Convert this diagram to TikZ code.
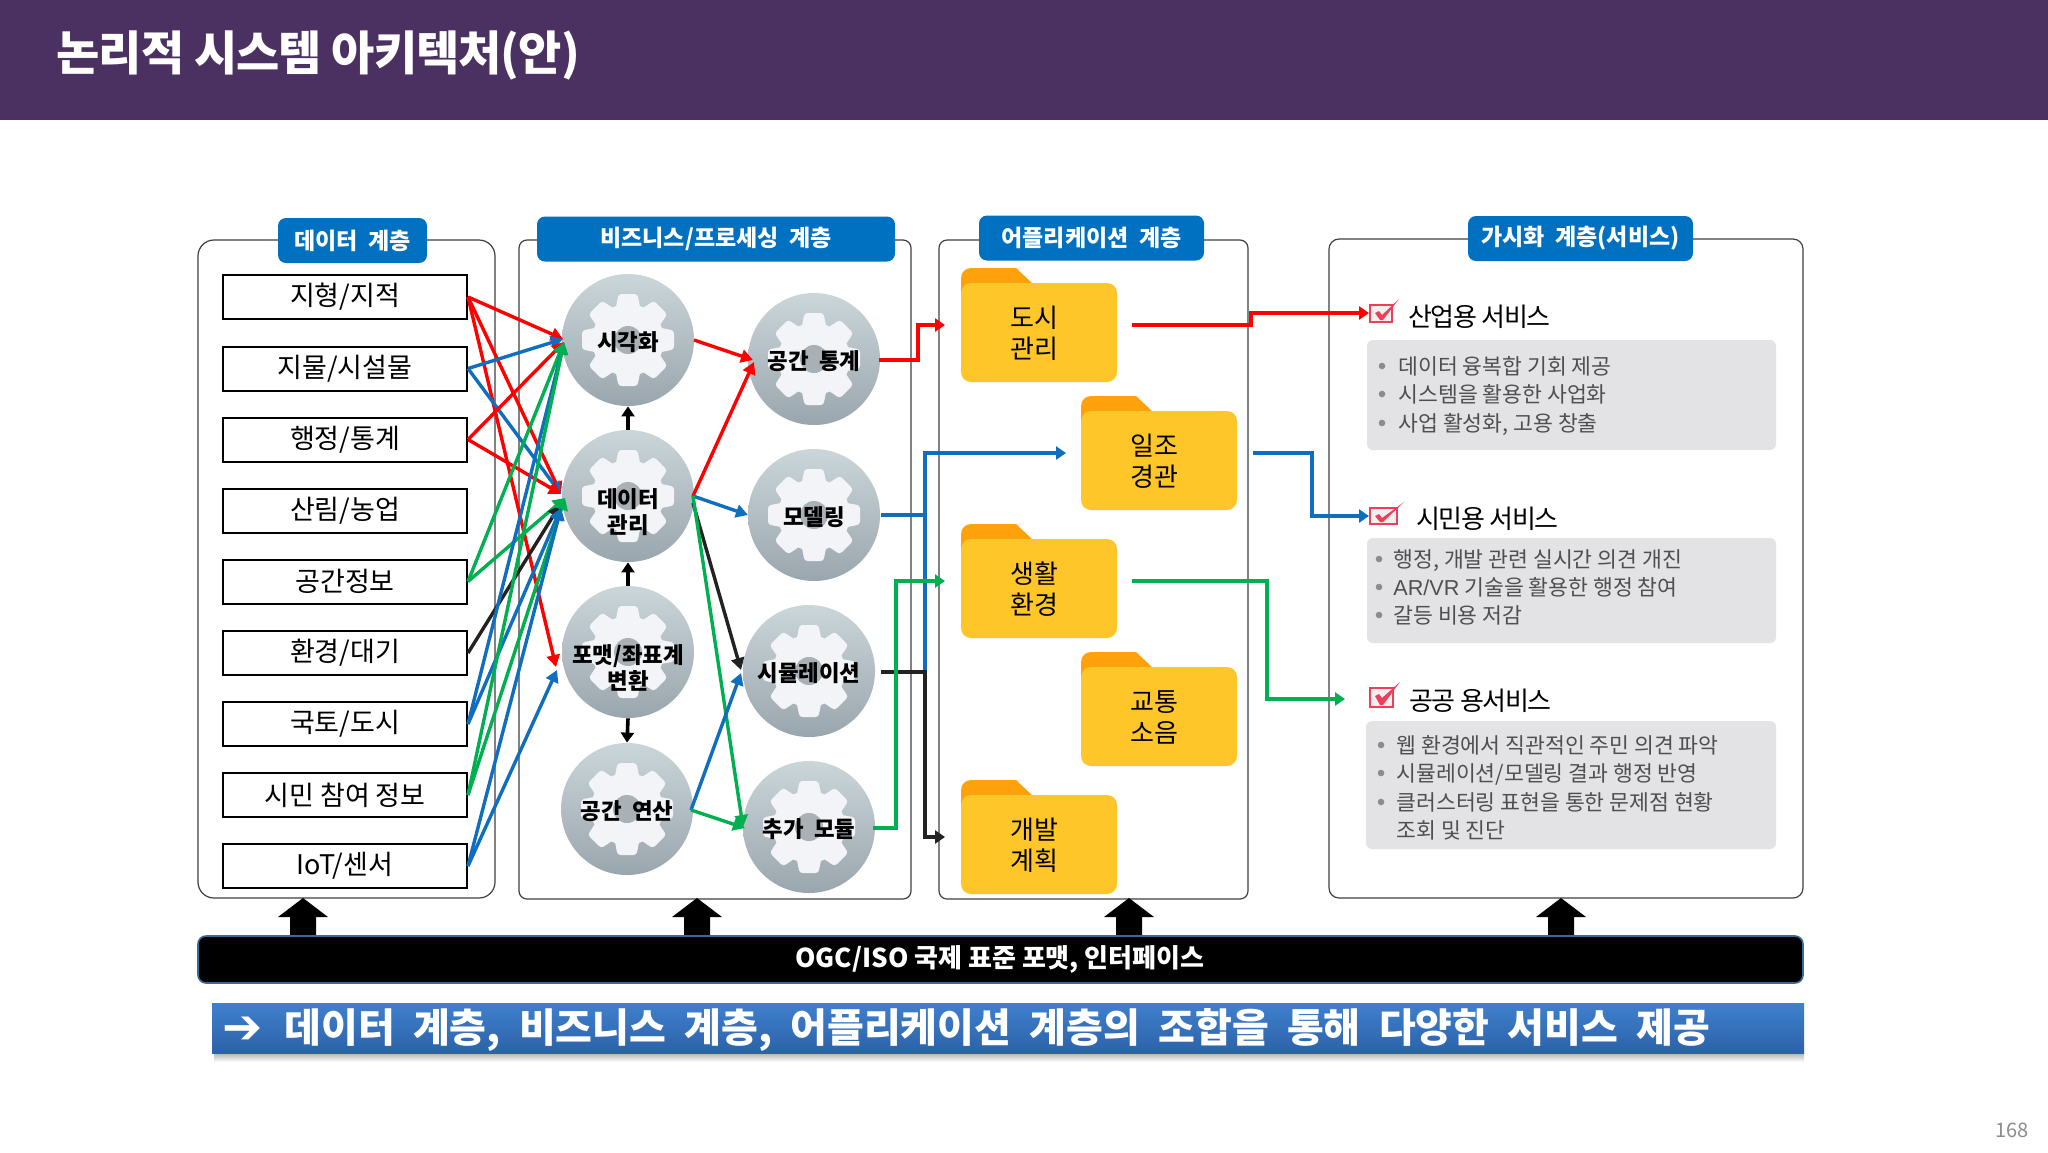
\documentclass[tikz,border=0pt]{standalone}
\usepackage{fontspec}
\usetikzlibrary{arrows.meta}
\setmainfont{Noto Sans CJK KR}
\newfontfamily\libsans{Liberation Sans}
\newfontfamily\djv{DejaVu Sans}
\newfontfamily\widefont[WordSpace=1.8]{Noto Sans CJK KR}
\newfontfamily\banfont[WordSpace=2]{Noto Sans CJK KR}
\newfontfamily\tightfont[LetterSpace=-5.7]{Noto Sans CJK KR}
\newfontfamily\titlefont[LetterSpace=-2]{Noto Sans CJK KR}
\definecolor{titlebg}{HTML}{4B3162}
\definecolor{headblue}{HTML}{0070C0}
\definecolor{lred}{HTML}{FF0000}
\definecolor{lblue}{HTML}{0F6FBE}
\definecolor{lgreen}{HTML}{00B050}
\definecolor{lblack}{HTML}{222222}
\definecolor{foldbody}{HTML}{FFC629}
\definecolor{foldtab}{HTML}{FFA10A}
\definecolor{greybox}{HTML}{E3E2E5}
\definecolor{greytext}{HTML}{4F4F4F}
\definecolor{chkred}{HTML}{EE3F5A}
\definecolor{gtop}{HTML}{CBD6DA}
\definecolor{gbot}{HTML}{9AA6AD}
\definecolor{gearwhite}{HTML}{F2F4F7}
\definecolor{hubgrey}{HTML}{AAB1B6}
\definecolor{bannertop}{HTML}{3F80CE}
\definecolor{bannerbot}{HTML}{2C62A8}
\definecolor{barline}{HTML}{3B6A96}
\tikzset{
  panel/.style={draw=black!75,line width=0.6pt,fill=white},
  headbox/.style={fill=headblue,rounded corners=4pt,text=white,font=\fontsize{11.5}{13}\selectfont\widefont\bfseries,inner sep=0pt,minimum height=22.5pt},
  databox/.style={draw=black,line width=1pt,fill=white,minimum width=122pt,minimum height=22pt,inner sep=0pt,font=\fontsize{13.5}{16}\selectfont},
  gdisk/.style={circle,minimum size=66pt,inner sep=0pt,top color=gtop,bottom color=gbot},
  glabel/.style={font=\fontsize{11.2}{13}\selectfont\widefont\bfseries,align=center,text=black,inner sep=0pt},
  foldnode/.style={fill=foldbody,rounded corners=5pt,minimum width=78pt,minimum height=49.5pt,inner sep=0pt},
  foldtext/.style={font=\fontsize{13}{15.5}\selectfont,align=center,inner sep=0pt},
  arr/.style={-{Triangle[length=6pt,width=6.5pt]},line width=1.7pt,miter limit=10},
  arrb/.style={-{Triangle[length=5pt,width=6.5pt]},line width=1.8pt,miter limit=10},
  plain/.style={line width=1.8pt,miter limit=10},
  greyrect/.style={fill=greybox,rounded corners=3pt},
  svc/.style={font=\fontsize{13}{15}\selectfont\tightfont,anchor=west,inner sep=0pt},
  itm/.style={font=\fontsize{10.8}{13}\selectfont,anchor=base west,inner sep=0pt,text=greytext},
}
% name, x, y, label y offset (px), label
\newcommand{\gearnode}[5]{%
  \node[gdisk] (#1) at (#2,#3) {};
  \begin{scope}[shift={(#1.center)}]
    \foreach \a in {0,45,...,315}
      \fill[rotate=\a,fill=gearwhite,rounded corners=1.5pt] (-13,-28) -- (-9.5,-46) -- (9.5,-46) -- (13,-28) -- cycle;
    \fill[gearwhite] (0,0) circle[radius=36];
    \fill[hubgrey] (0,0) circle[radius=14];
  \end{scope}
  \node[glabel] (#1t) at (#2,#3+#4) {#5};
}
\newcommand{\folder}[4]{%
  \fill[foldtab] (#2,#3+30) [rounded corners=5pt] -- (#2,#3) [sharp corners] -- (#2+55,#3) -- (#2+71,#3+15) -- (#2+30,#3+30) -- cycle;
  \node[foldnode] (#1) at (#2+78,#3+64.5) {};
  \node[foldtext] (#1t) at ([xshift=-2.5pt,yshift=-0.5pt]#1.center) {#4};
}
\newcommand{\checkbox}[4]{%
  \draw[chkred,line width=1pt,fill=black!6] (#1,#2) rectangle (#3,#4);
  \fill[chkred] (#1+5,#2+8) -- (#1+9,#2+6) -- (#1+12,#2+10) -- (#3+7,#2-6) -- (#1+13,#4-2) -- (#1+10,#4-2) -- cycle;
}
\newcommand{\uparr}[1]{%
  \fill[black] (#1-13,936) -- (#1-13,917) -- (#1-25,917) -- (#1,898) -- (#1+25,917) -- (#1+13,917) -- (#1+13,936) -- cycle;
}
\newcommand{\bul}[2]{\fill[black!45] (#1,#2) circle[radius=3.3];}
\begin{document}
\begin{tikzpicture}[x=0.5pt,y=-0.5pt]
\path[use as bounding box,fill=white] (0,0) rectangle (2048,1152);
% title
\fill[titlebg] (0,0) rectangle (2048,120);
\node[anchor=west,inner sep=0pt,text=white,font=\fontsize{23.5}{28}\selectfont\titlefont\bfseries] (title) at (56,55) {논리적 시스템 아키텍처(안)};
% panels
\draw[panel,rounded corners=8pt] (198,240) rectangle (495,898);
\draw[panel,rounded corners=4pt] (519,240) rectangle (911,899);
\draw[panel,rounded corners=4pt] (939,240) rectangle (1248,899);
\draw[panel,rounded corners=5pt] (1329,239) rectangle (1803,898);
\node[headbox,minimum width=74.5pt] (h1) at (352.5,240.5) {데이터 계층};
\node[headbox,minimum width=179pt] (h2) at (716,239) {비즈니스/프로세싱 계층};
\node[headbox,minimum width=112.5pt] (h3) at (1091.5,238) {어플리케이션 계층};
\node[headbox,minimum width=112.5pt] (h4) at (1580.5,238.5) {가시화 계층(서비스)};
% data boxes
\node[databox] (d1) at (345,297) {\raisebox{-0.7pt}{지형/지적}};
\node[databox] (d2) at (345,368.5) {\raisebox{-0.7pt}{지물/시설물}};
\node[databox] (d3) at (345,439.5) {\raisebox{-0.7pt}{행정/통계}};
\node[databox] (d4) at (345,510.5) {\raisebox{-0.7pt}{산림/농업}};
\node[databox] (d5) at (345,581.5) {\raisebox{-0.7pt}{공간정보}};
\node[databox] (d6) at (345,653) {\raisebox{-0.7pt}{환경/대기}};
\node[databox] (d7) at (345,724) {\raisebox{-0.7pt}{국토/도시}};
\node[databox] (d8) at (345,795) {\raisebox{-0.7pt}{시민 참여 정보}};
\node[databox] (d9) at (345,866) {\raisebox{-0.7pt}{IoT/센서}};
% gears
\gearnode{g1}{628}{340}{2}{시각화}
\gearnode{g2}{628}{496}{16}{데이터\\관리}
\gearnode{g3}{628}{652}{16}{포맷/좌표계\\변환}
\gearnode{g4}{627}{809}{2}{공간 연산}
\gearnode{g5}{814}{359}{2}{공간 통계}
\gearnode{g6}{814}{515}{2}{모델링}
\gearnode{g7}{809}{671}{2}{시뮬레이션}
\gearnode{g8}{809}{827}{2}{추가 모듈}
% folders
\folder{f1}{961}{268}{도시\\관리}
\folder{f2}{1081}{396}{일조\\경관}
\folder{f3}{961}{524}{생활\\환경}
\folder{f4}{1081}{652}{교통\\소음}
\folder{f5}{961}{780}{개발\\계획}
% grey boxes
\fill[greyrect] (1367,340) rectangle (1776,450);
\fill[greyrect] (1367,538) rectangle (1776,643);
\fill[greyrect] (1366,721) rectangle (1776,849);
% service heads
\checkbox{1370}{305}{1392}{322}
\node[svc] (s1) at (1408,317) {산업용 서비스};
\checkbox{1370}{508}{1397}{524}
\node[svc] (s2) at (1416,519) {시민용 서비스};
\checkbox{1370}{688}{1393}{707}
\node[svc] (s3) at (1409,701) {공공 용서비스};
\bul{1382}{366}\bul{1382}{394}\bul{1382}{423}
\node[itm] (i11) at (1398,374) {데이터 융복합 기회 제공};
\node[itm] (i12) at (1398,402) {시스템을 활용한 사업화};
\node[itm] (i13) at (1398,431) {사업 활성화, 고용 창출};
\bul{1379}{559}\bul{1379}{587}\bul{1379}{615}
\node[itm] (i21) at (1393,567) {행정, 개발 관련 실시간 의견 개진};
\node[itm] (i22) at (1393,595) {{\libsans AR/VR} 기술을 활용한 행정 참여};
\node[itm] (i23) at (1393,623) {갈등 비용 저감};
\bul{1381}{745}\bul{1381}{773}\bul{1381}{802}
\node[itm] (i31) at (1396,753) {웹 환경에서 직관적인 주민 의견 파악};
\node[itm] (i32) at (1396,781) {시뮬레이션/모델링 결과 행정 반영};
\node[itm] (i33) at (1396,810) {클러스터링 표현을 통한 문제점 현황};
\node[itm] (i34) at (1396,838) {조회 및 진단};
% ports
\coordinate (g1a) at (563,339);
\coordinate (g1b) at (564,342);
\coordinate (g2a) at (561,494);
\coordinate (g2b) at (565,498);
\coordinate (g2c) at (560,505);
\coordinate (g2d) at (561,508);
\coordinate (g3a) at (556,667);
\coordinate (g3b) at (557,670);
\coordinate (g2o) at (693,496);
\coordinate (g2p) at (693,503);
\coordinate (g1o) at (694,340);
\coordinate (g5a) at (753,360);
\coordinate (g5b) at (754,362);
\coordinate (g6a) at (748,515);
\coordinate (g7a) at (741,670);
\coordinate (g7b) at (741,673);
\coordinate (g8a) at (743,827);
\coordinate (g8b) at (745,828);
\coordinate (g4o) at (691,810);
% data to gears
\draw[arr,lred] (d1.east) -- (g1a);
\draw[arr,lred] (d1.east) -- (g2a);
\draw[arr,lred] (d1.east) -- (g3a);
\draw[arr,lblue] (d2.east) -- (g1a);
\draw[arr,lblue] (d2.east) -- (g2a);
\draw[arr,lred] (d3.east) -- (g1b);
\draw[arr,lred] (d3.east) -- (g2a);
\draw[arr,lgreen] (d5.east) -- (g1b);
\draw[arr,lgreen] (d5.east) -- (g2b);
\draw[arr,lblack] (d6.east) -- (g2c);
\draw[arr,lblue] (d7.east) -- (g1b);
\draw[arr,lblue] (d7.east) -- (g2d);
\draw[arr,lgreen] (d8.east) -- (g1b);
\draw[arr,lgreen] (d8.east) -- (g2b);
\draw[arr,lblue] (d9.east) -- (g2d);
\draw[arr,lblue] (d9.east) -- (g3b);
% gear to gear
\draw[arrb,black] (g2.north) -- (g1.south);
\draw[arrb,black] (g3.north) -- (g2.south);
\draw[arrb,black] (g3.south) -- (g4.north);
\draw[arr,lred] (g1o) -- (g5a);
\draw[arr,lred] (g2o) -- (g5b);
\draw[arr,lblue] (g2o) -- (g6a);
\draw[arr,lblack] (g2p) -- (g7a);
\draw[arr,lgreen] (g2o) -- (g8a);
\draw[arr,lblue] (g4o) -- (g7b);
\draw[arr,lgreen] (g4o) -- (g8b);
% gear to folder
\coordinate (fi1) at (945,325);
\coordinate (fi2) at (1066,453);
\coordinate (fi3) at (945,581);
\coordinate (fi5) at (945,837);
\coordinate (go5) at (879,360);
\coordinate (go6) at (881,515);
\coordinate (go7) at (881,672);
\coordinate (go8) at (873,828);
\draw[arrb,lred] (go5) -| (918,325) -- (fi1);
\draw[plain,lblue] (go6) -- (925,515);
\draw[arrb,lblue] (go7) -| (925,453) -- (fi2);
\draw[arrb,lblack] (go7) -| (925,837) -- (fi5);
\draw[arrb,lgreen] (go8) -| (896,581) -- (fi3);
% folder to service
\coordinate (fo1) at (1132,325);
\coordinate (fo2) at (1253,453);
\coordinate (fo3) at (1132,581);
\coordinate (se1) at (1369,313);
\coordinate (se2) at (1369,516);
\coordinate (se3) at (1345,699);
\draw[arrb,lred] (fo1) -| (1251,313) -- (se1);
\draw[arrb,lblue] (fo2) -| (1312,516) -- (se2);
\draw[arrb,lgreen] (fo3) -| (1267,699) -- (se3);
% bar
\uparr{303}\uparr{697}\uparr{1129}\uparr{1561}
\draw[fill=black,draw=barline,line width=0.8pt,rounded corners=4pt] (198,936) rectangle (1803,983);
\node[text=white,inner sep=0pt,font=\fontsize{13}{15}\selectfont\bfseries] (bar) at (1000,959) {OGC/ISO 국제 표준 포맷, 인터페이스};
% banner
\shade[top color=black!30,bottom color=white] (214,1053) rectangle (1804,1062);
\shade[top color=bannertop,bottom color=bannerbot] (212,1003) rectangle (1804,1053);
\node[anchor=west,text=white,inner sep=0pt,font=\fontsize{24}{26}\selectfont] (barrow) at (222,1030) {\djv\bfseries ➔};
\node[anchor=west,text=white,inner sep=0pt,font=\fontsize{20}{24}\selectfont\banfont\bfseries] (bantext) at (284,1030) {데이터 계층, 비즈니스 계층, 어플리케이션 계층의 조합을 통해 다양한 서비스 제공};
\node[anchor=east,text=black!45,inner sep=0pt,font=\fontsize{10}{12}\selectfont] (pg) at (2029,1130) {168};
\end{tikzpicture}
\end{document}
